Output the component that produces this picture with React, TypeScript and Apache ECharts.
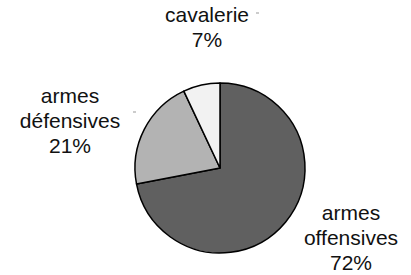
import React, { useEffect, useRef } from "react";
import * as echarts from "echarts";

const categories = ["armes offensives", "armes défensives", "cavalerie"];
const labelNames = ["armes\noffensives", "armes\ndéfensives", "cavalerie"];
const values = [72, 21, 7];
const colors = ["#606060", "#b3b3b3", "#f2f2f2"];
const labelPos: [number, number][] = [[351, 237], [70, 120], [207, 27]];

export default function App() {
  const ref = useRef<HTMLDivElement>(null);
  useEffect(() => {
    document.body.style.margin = "0";
    const chart = echarts.init(ref.current!, null, { renderer: "svg" });
    chart.setOption({
      animation: false,
      backgroundColor: "#ffffff",
      graphic: [
        { type: "line", shape: { x1: 256, y1: 13, x2: 259, y2: 13 }, style: { stroke: "#999", lineWidth: 1 } },
        { type: "line", shape: { x1: 133, y1: 112, x2: 136, y2: 112 }, style: { stroke: "#999", lineWidth: 1 } },
      ],
      series: [
        {
          type: "pie",
          center: [220, 168],
          radius: 85,
          startAngle: 90,
          clockwise: true,
          data: categories.map((c, i) => ({
            name: c,
            value: values[i],
            itemStyle: { color: colors[i] },
            label: { formatter: labelNames[i] + "\n" + values[i] + "%" },
          })),
          itemStyle: { borderColor: "#000", borderWidth: 1.5 },
          label: {
            show: true,
            position: "outside",
            fontFamily: "Liberation Sans, Arial, sans-serif",
            fontSize: 21,
            lineHeight: 25,
            color: "#111",
            align: "center",
            overflow: "none",
            width: 200,
          },
          labelLine: { show: false },
          labelLayout: (p: any) => ({
            x: labelPos[p.dataIndex][0],
            y: labelPos[p.dataIndex][1],
            align: "center",
            verticalAlign: "middle",
            width: 200,
          }),
          emphasis: { disabled: true },
        },
      ],
    });
    return () => chart.dispose();
  }, []);
  return <div ref={ref} style={{ width: 411, height: 275 }} />;
}
